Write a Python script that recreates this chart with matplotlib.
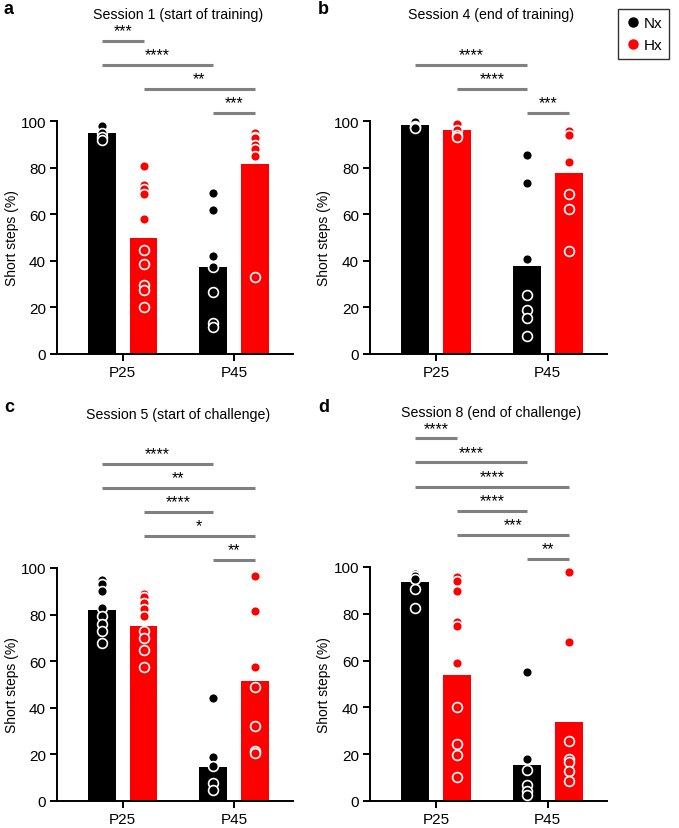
import matplotlib
matplotlib.use("Agg")
import matplotlib.pyplot as plt
from matplotlib.lines import Line2D

plt.rcParams['font.family'] = ['Liberation Sans', 'DejaVu Sans']
plt.rcParams['font.size'] = 10

W, H = 679, 829

groups = ["P25", "P45"]
series = ["Nx", "Hx"]
colors = {"Nx": "#000000", "Hx": "#ff0000"}

titles = ["Session 1 (start of training)", "Session 4 (end of training)",
          "Session 5 (start of challenge)", "Session 8 (end of challenge)"]
letters = ["a", "b", "c", "d"]

# bar heights: [Nx P25, Hx P25, Nx P45, Hx P45]
bars_a = [94.8, 49.9, 37.2, 81.7]
bars_b = [98.1, 96.1, 37.9, 77.5]
bars_c = [82.1, 75.1, 14.5, 51.3]
bars_d = [93.6, 53.8, 15.4, 33.9]

# individual animals
pts_a = [[98, 95, 93, 92],
         [80.5, 72.5, 71, 68.5, 58, 44.8, 38.5, 29.5, 27.5, 20],
         [69, 62, 42, 37.5, 26.5, 13.5, 11.5],
         [95, 93, 92.5, 89.5, 88, 85, 33]]
pts_b = [[99.5, 98, 97.5, 97],
         [98.5, 96, 94, 93],
         [85.4, 73.2, 40.9, 25.3, 19.0, 15.3, 7.6],
         [95.5, 94, 82.3, 68.5, 62.4, 44.2]]
pts_c = [[95, 93, 90.3, 82.8, 79.5, 76, 72.8, 67.6],
         [88.8, 87.4, 85, 82.4, 79.2, 72.8, 69.9, 64.9, 57.6],
         [44.0, 18.9, 15.0, 7.9, 4.6],
         [96.6, 81.4, 57.3, 49.1, 32.2, 21.5, 20.5]]
pts_d = [[97, 96, 94.7, 90.7, 82.5],
         [95.7, 93.9, 89.6, 76.5, 74.8, 59.1, 40.0, 24.2, 19.5, 10.4],
         [55.1, 18.1, 13.2, 6.7, 4.1, 2.7],
         [98, 67.8, 25.6, 18.1, 16.7, 12.7, 8.5]]

# significance comparisons: (from bar index, to bar index, label)
sig_a = [(0, 1, "***"), (0, 2, "****"), (1, 3, "**"), (2, 3, "***")]
sig_b = [(0, 2, "****"), (1, 2, "****"), (2, 3, "***")]
sig_c = [(0, 2, "****"), (0, 3, "**"), (1, 2, "****"), (1, 3, "*"), (2, 3, "**")]
sig_d = [(0, 1, "****"), (0, 2, "****"), (0, 3, "****"), (1, 2, "****"), (1, 3, "***"), (2, 3, "**")]

panels = [(bars_a, pts_a, sig_a), (bars_b, pts_b, sig_b),
          (bars_c, pts_c, sig_c), (bars_d, pts_d, sig_d)]

# axes boxes in pixels: left, right, top, bottom
boxes = [(57, 293, 122, 355), (370, 607, 122, 355),
         (57, 293, 569, 802), (370, 607, 568, 802)]
letter_pos = [(4, 10), (318, 10), (4, 408), (318, 408)]
title_y = [15, 15, 415, 413]
ylabel_x = [19, 331, 19, 331]

fig = plt.figure(figsize=(W / 100, H / 100), dpi=100)

offset = 0.1875
bw = 0.25

for i, ((bars, pts, sigs), (l, r, t, b)) in enumerate(zip(panels, boxes)):
    ax = fig.add_axes([l / W, 1 - b / H, (r - l) / W, (b - t) / H])
    xs = []
    for gi in range(2):
        for si, s in enumerate(series):
            xs.append(gi + (-offset if si == 0 else offset))
    cols = [colors[s] for g in groups for s in series]
    ax.bar(xs, bars, width=bw, color=cols, zorder=1)
    for x, p, c in zip(xs, pts, cols):
        ax.scatter([x] * len(p), p, s=50, facecolor=c, edgecolor="white",
                   linewidths=1.2, zorder=3, clip_on=False)
    ax.set_xlim(-0.59, 1.53)
    ax.set_ylim(0, 100)
    ax.set_yticks([0, 20, 40, 60, 80, 100])
    ax.set_xticks([0, 1])
    ax.set_xticklabels(groups)
    ax.set_ylabel("Short steps (%)", fontsize=10)
    ax.yaxis.set_label_coords((ylabel_x[i] - l) / (r - l), 0.5)
    for sp in ["top", "right"]:
        ax.spines[sp].set_visible(False)
    for sp in ["left", "bottom"]:
        ax.spines[sp].set_linewidth(1.4)
    ax.tick_params(width=1.4, length=5, labelsize=11, pad=3)
    # significance lines, stacked from top to bottom
    n = len(sigs)
    for k, (a_, b_, lab) in enumerate(sigs):
        y = 103.5 + (n - 1 - k) * 10.3
        ax.plot([xs[a_], xs[b_]], [y, y], color="#808080", lw=2.2,
                clip_on=False, solid_capstyle="butt")
        ax.text((xs[a_] + xs[b_]) / 2, y + 1.0, lab, ha="center", va="bottom",
                fontsize=11.5, clip_on=False)
    cx = (l + r) / 2 / W + 3 / W
    fig.text(cx, 1 - title_y[i] / H, titles[i], ha="center", va="center", fontsize=10.2)
    lx, ly = letter_pos[i]
    fig.text(lx / W, 1 - ly / H, letters[i], ha="left", va="center",
             fontsize=13, fontweight="bold")

handles = [Line2D([], [], marker="o", linestyle="none", color=colors[s],
                  markersize=6.5, label=s) for s in series]
leg = fig.legend(handles=handles, loc="upper right",
                 bbox_to_anchor=(669 / W, 1 - 10 / H), frameon=True,
                 fancybox=False, edgecolor="black", handletextpad=0.2,
                 handlelength=1.0, borderpad=0.45, labelspacing=0.55,
                 borderaxespad=0, fontsize=11)
leg.get_frame().set_linewidth(1.0)

fig.savefig("out.png", dpi=100)
